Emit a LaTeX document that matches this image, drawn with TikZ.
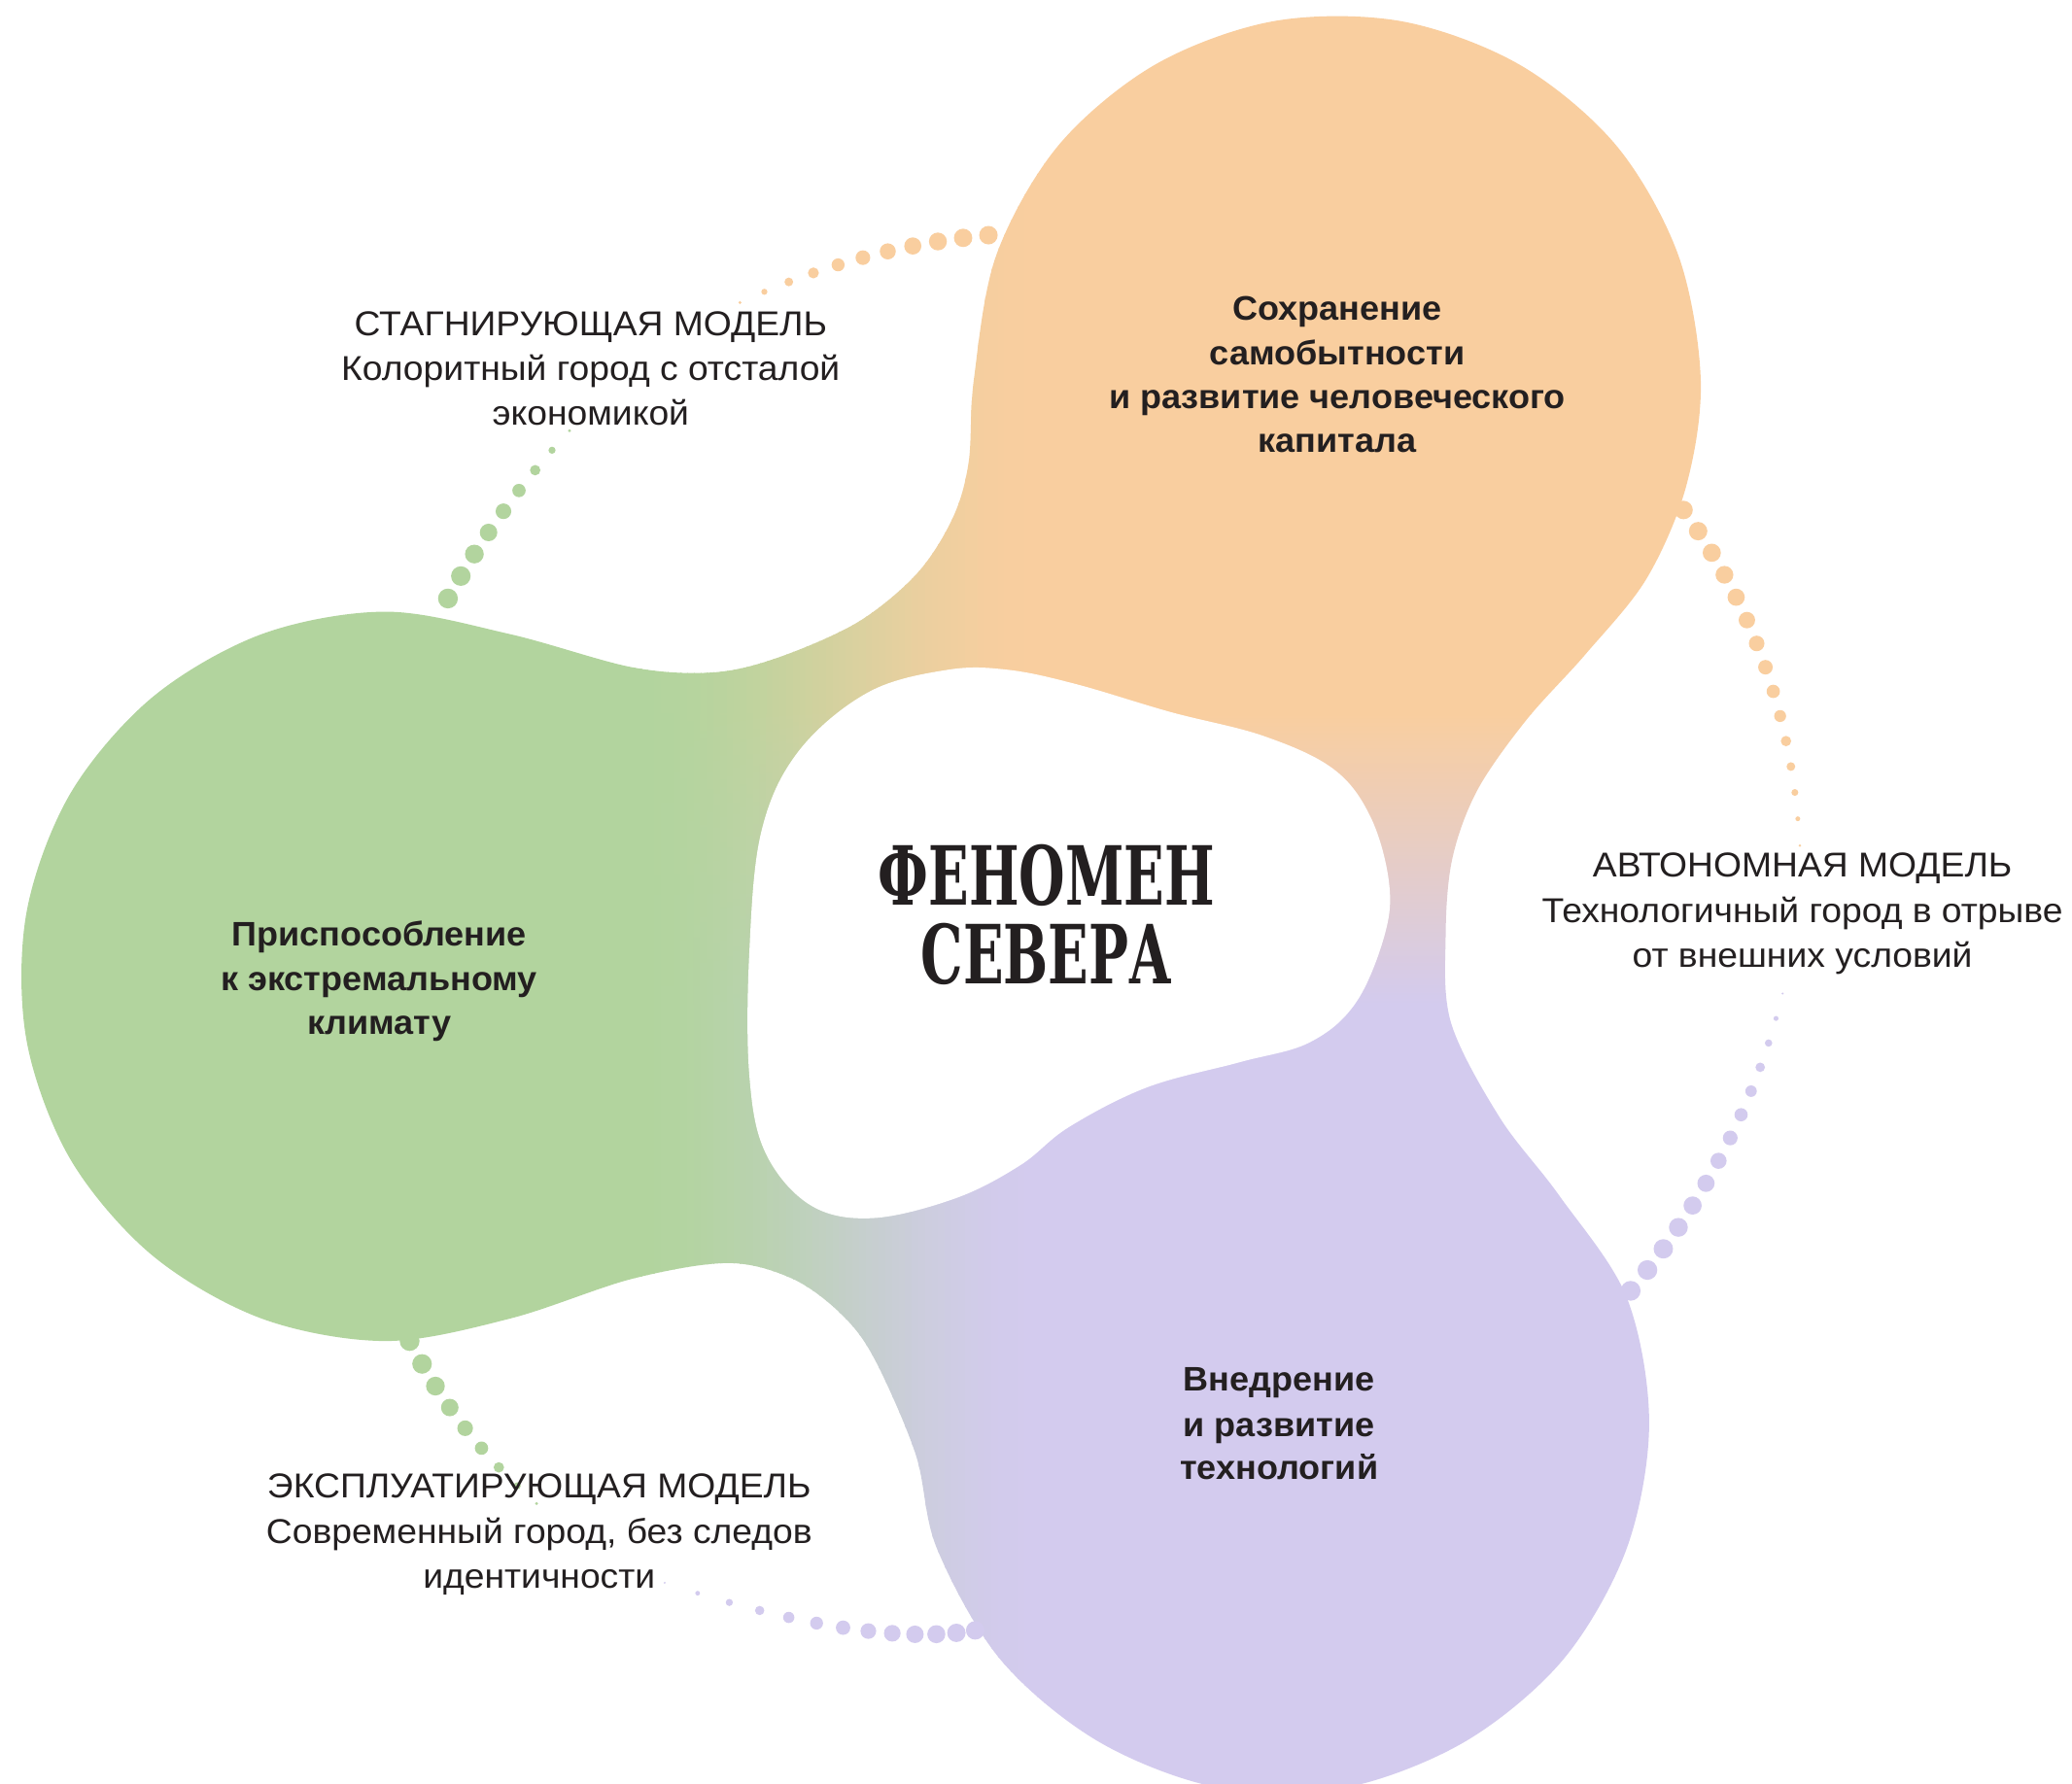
\documentclass[tikz,border=0pt]{standalone}
\usepackage{fontspec}
\setmainfont{Liberation Sans}
\newfontfamily\titlefont[FakeStretch=0.65]{DejaVu Serif}
\newfontfamily\labelfont[FakeStretch=1.05]{Liberation Sans}
\newfontfamily\blobfont[FakeStretch=1.03]{Liberation Sans}
\definecolor{Oc}{HTML}{F9CE9F}
\definecolor{Gc}{HTML}{B2D49E}
\definecolor{Pc}{HTML}{D3CBEE}
\definecolor{Tc}{HTML}{231F20}
\newcommand\dotarc[8]{%
  \foreach \k in {0,...,#6}{%
    \pgfmathsetmacro\dpos{\k/#6}%
    \pgfmathsetlengthmacro\drad{(#7-(#7-#8)*\dpos*\dpos)*1.36pt}%
    \path #2 .. controls #3 and #4 .. #5 coordinate[pos=\dpos] (dd);%
    \fill[#1] (dd) circle[radius=\drad];%
  }}
\begin{document}
\begin{tikzpicture}[x=1.36pt,y=-1.36pt,
  lbl/.style={anchor=base,inner sep=0pt,text=Tc,font=\labelfont\fontsize{35.5}{46}\selectfont},
  blobtxt/.style={anchor=base,inner sep=0pt,text=Tc,font=\blobfont\bfseries\fontsize{35}{46}\selectfont},
  ttl/.style={anchor=base,inner sep=0pt,text=Tc,font=\titlefont\bfseries\fontsize{84}{82}\selectfont}]
\fill[white] (0,0) rectangle (1568,1350);
\useasboundingbox (0,0) rectangle (1568,1350);
% ---- gradient blob ----
\begin{scope}
\clip plot[smooth cycle, tension=0.55] coordinates {
 (737,287) (754,193) (801,110) (874,49) (964,16) (1060,16) (1150,49) (1223,110)
 (1270,193) (1287,287) (1276,368) (1246,438) (1200,495) (1155,545) (1118,598)
 (1099,650) (1094,708) (1098,774) (1135,846) (1180,905)
 (1231,982) (1248,1077) (1231,1172) (1183,1256) (1109,1318) (1018,1353) (922,1353)
 (831,1318) (757,1256) (709,1172) (693,1101)
 (662,1029) (637,995) (600,968) (551,956) (478,968)
 (386,998) (292,1015) (198,998) (115,950) (53,877) (20,787) (20,691) (53,601)
 (115,528) (198,480) (292,463) (386,480)
 (478,505) (539,509) (588,498) (649,471) (694,434) (721,392) (733,350)};
\fill[Gc] (-5,-5) rectangle (481,1360);
\fill[Oc] (790,-5) rectangle (1600,541);
\shade[top color=Oc,bottom color=Pc] (790,540) rectangle (1600,760);
\fill[Pc] (790,759) rectangle (1600,1360);
\foreach \i in {0,...,61}{
  \pgfmathsetmacro\sxa{480+5*\i}
  \pgfmathsetmacro\sxb{\sxa+5.8}
  \pgfmathsetmacro\ts{(\i+0.5)/62}
  \pgfmathtruncatemacro\gp{round(100*(1-(3*\ts*\ts-2*\ts*\ts*\ts)))}
  \colorlet{cO}{Gc!\gp!Oc}
  \colorlet{cP}{Gc!\gp!Pc}
  \fill[cO] (\sxa,-5) rectangle (\sxb,541);
  \shade[top color=cO,bottom color=cP] (\sxa,540) rectangle (\sxb,760);
  \fill[cP] (\sxa,759) rectangle (\sxb,1360);
}
\end{scope}
% ---- central hole ----
\fill[white] plot[smooth cycle, tension=0.6] coordinates {
 (717,507) (657,524) (604,569) (576,630) (567,722) (567,813) (579,872) (613,912)
 (660,922) (723,907) (772,882) (809,853) (868,823) (938,804) (991,789) (1026,759)
 (1048,707) (1051,667) (1037,618) (1009,582) (956,557) (886,539) (815,518) (763,507)};
% ---- dotted arcs ----
\dotarc{Oc}{(748,178)}{(684,183.7)}{(621.3,200.7)}{(560,229)}{10}{7}{1.2}
\dotarc{Gc}{(339,453)}{(364.3,407.3)}{(395,365)}{(431,326)}{8}{7.5}{1.2}
\dotarc{Oc}{(1274,386)}{(1327.3,460)}{(1356.7,544.7)}{(1362,640)}{14}{7}{1}
\dotarc{Pc}{(1234,977)}{(1290.3,909.3)}{(1328.7,834.3)}{(1349,752)}{13}{7.5}{0.9}
\dotarc{Pc}{(738,1234)}{(683,1243.3)}{(604.7,1231.3)}{(503,1198)}{12}{7}{0.8}
\dotarc{Gc}{(310,1015)}{(334,1062)}{(366,1103)}{(406,1138)}{8}{7.5}{1.2}
% ---- title ----
\node[ttl] (t1) at (792,685) {ФЕНОМЕН};
\node[ttl] (t2) at (792,745) {СЕВЕРА};
% ---- blob texts ----
\node[blobtxt] (o1) at (1012,242) {Сохранение};
\node[blobtxt] (o2) at (1012,276) {самобытности};
\node[blobtxt] (o3) at (1012,309) {и развитие человеческого};
\node[blobtxt] (o4) at (1012,342) {капитала};
\node[blobtxt] (g1) at (287,716) {Приспособление};
\node[blobtxt] (g2) at (287,750) {к экстремальному};
\node[blobtxt] (g3) at (287,783) {климату};
\node[blobtxt] (p1) at (968,1053) {Внедрение};
\node[blobtxt] (p2) at (968,1087) {и развитие};
\node[blobtxt] (p3) at (968,1120) {технологий};
% ---- labels ----
\node[lbl] (s1) at (447,254) {СТАГНИРУЮЩАЯ МОДЕЛЬ};
\node[lbl] (s2) at (447,288) {Колоритный город с отсталой};
\node[lbl] (s3) at (447,322) {экономикой};
\node[lbl] (a1) at (1364,664) {АВТОНОМНАЯ МОДЕЛЬ};
\node[lbl] (a2) at (1364,698) {Технологичный город в отрыве};
\node[lbl] (a3) at (1364,732) {от внешних условий};
\node[lbl] (e1) at (408,1134) {ЭКСПЛУАТИРУЮЩАЯ МОДЕЛЬ};
\node[lbl] (e2) at (408,1168) {Современный город, без следов};
\node[lbl] (e3) at (408,1202) {идентичности};
\end{tikzpicture}
\end{document}
